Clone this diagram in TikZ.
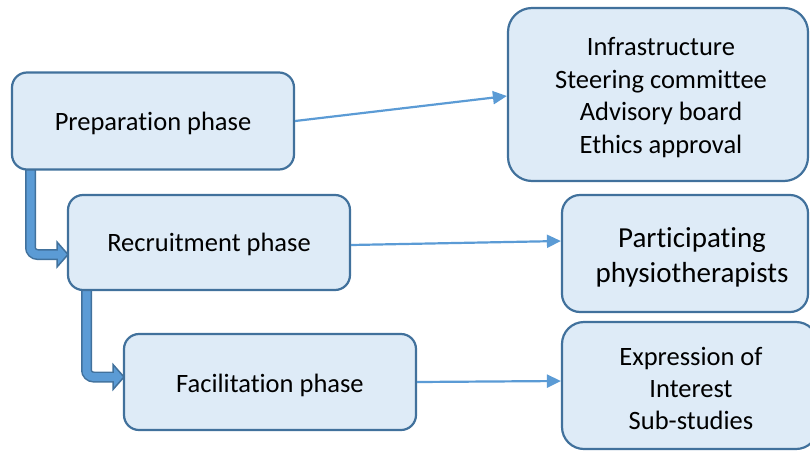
\documentclass[tikz,border=0pt]{standalone}
\usepackage{fontspec}
\setmainfont{Carlito}[Ligatures={NoCommon}]
\usetikzlibrary{arrows.meta,calc}
\definecolor{boxfill}{HTML}{DEEBF7}
\definecolor{boxline}{HTML}{41719C}
\definecolor{arrowc}{HTML}{5B9BD5}
\tikzset{
  phasebox/.style={draw=boxline, fill=boxfill, line width=2.2pt, rounded corners=15pt, inner sep=0pt},
  outbox/.style={phasebox, rounded corners=24pt},
  boxtext/.style={align=center, inner sep=0pt, font=\fontsize{26.5}{32.4}\selectfont},
  thinarrow/.style={draw=arrowc, line width=2.2pt, -{Triangle[length=14pt,width=13pt]}},
  shaftout/.style={draw=boxline, line width=11pt, rounded corners=7pt},
  shaftin/.style={draw=arrowc, line width=8pt, rounded corners=7pt},
  headshape/.style={fill=arrowc, draw=boxline, line width=1.5pt, line join=miter}
}
\begin{document}
\begin{tikzpicture}[x=1pt,y=-1pt]
\useasboundingbox (0,0) rectangle (810,450);
\clip (0,0) rectangle (810,450);
% coordinates for bent arrows (drawn below boxes)
\coordinate (s1) at (30.5,160);
\coordinate (t1) at (68,254.5);
\coordinate (b1) at (57,254.5);
\coordinate (s2) at (86.5,280);
\coordinate (t2) at (124,377);
\coordinate (b2) at (113,377);
\draw[shaftout] (s1) |- (b1);
\filldraw[headshape] ($(b1)+(0,-12.5)$) -- (t1) -- ($(b1)+(0,12.5)$) -- cycle;
\draw[shaftin] (s1) |- ($(b1)+(2,0)$);
\draw[shaftout] (s2) |- (b2);
\filldraw[headshape] ($(b2)+(0,-12.5)$) -- (t2) -- ($(b2)+(0,12.5)$) -- cycle;
\draw[shaftin] (s2) |- ($(b2)+(2,0)$);
% boxes
\node[phasebox, minimum width=282pt, minimum height=97pt] (prep) at (153,121) {};
\node[phasebox, minimum width=282pt, minimum height=95pt] (recr) at (209,242.5) {};
\node[phasebox, minimum width=292pt, minimum height=96pt] (facil) at (270,382) {};
\node[outbox, minimum width=300pt, minimum height=173pt] (infra) at (658,94.5) {};
\node[outbox, rounded corners=18pt, minimum width=246pt, minimum height=117pt] (part) at (685,253.5) {};
\node[outbox, rounded corners=22pt, minimum width=256pt, minimum height=127pt] (expr) at (690,385.5) {};
% texts
\node[boxtext] (prept) at ($(prep)+(0,2)$) {Preparation phase};
\node[boxtext] (recrt) at ($(recr)+(0,2)$) {Recruitment phase};
\node[boxtext] (facilt) at ($(facil)+(0,3)$) {Facilitation phase};
\node[boxtext] (infrat) at ($(infra)+(3,3)$) {Infrastructure\\Steering committee\\Advisory board\\Ethics approval};
\node[boxtext, font=\fontsize{29}{35}\selectfont] (partt) at ($(part)+(7,4)$) {Participating\\physiotherapists};
\node[boxtext] (exprt) at ($(expr)+(1,3)$) {Expression of\\Interest\\Sub-studies};
% straight arrows
\draw[thinarrow] (prep.east) -- ($(infra.west)+(0,1.5)$);
\draw[thinarrow] ($(recr.east)+(0,2.5)$) -- ($(part.west)+(0,-12.5)$);
\draw[thinarrow] (facil.east) -- ($(expr.west)+(0,-4.5)$);
\end{tikzpicture}
\end{document}
